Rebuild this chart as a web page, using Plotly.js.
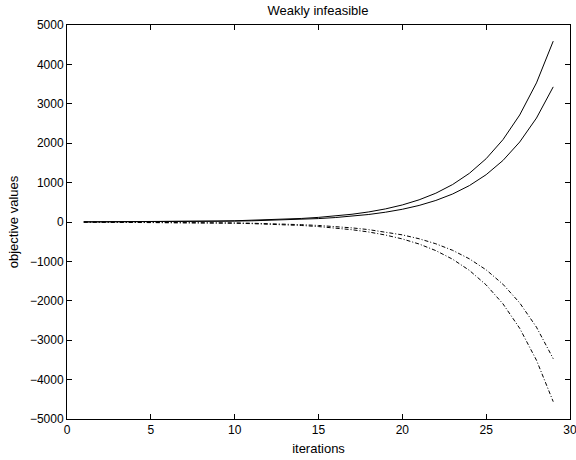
<!DOCTYPE html>
<html>
<head>
<meta charset="utf-8">
<script src="https://cdn.plot.ly/plotly-3.0.1.min.js"></script>
<style>html,body{margin:0;padding:0;background:#fff;}#chart{width:576px;height:460px;}</style>
</head>
<body>
<div id="chart"></div>
<script>
var iterations = [1,2,3,4,5,6,7,8,9,10,11,12,13,14,15,16,17,18,19,20,21,22,23,24,25,26,27,28,29];
var upperSolid = [3.0,3.8,5.0,6.5,8.5,11,14,19,24,31,41,53,69,90,117,152,197,256,333,433,563,731,951,1236,1607,2089,2716,3531,4590];
var lowerSolid = [2.2,2.9,3.7,4.9,6.3,8.2,11,14,18,23,30,40,52,67,87,113,147,191,249,323,420,547,711,924,1201,1561,2030,2638,3430];
var upperDashDot = [-2.2,-2.9,-3.8,-4.9,-6.4,-8.3,-11,-14,-18,-24,-31,-40,-52,-68,-88,-115,-149,-194,-252,-327,-425,-553,-719,-935,-1215,-1579,-2053,-2669,-3470];
var lowerDashDot = [-2.9,-3.8,-5.0,-6.5,-8.4,-11,-14,-18.6,-24,-31,-41,-53,-69,-89,-116,-151,-196,-254,-331,-430,-559,-727,-945,-1228,-1597,-2076,-2698,-3508,-4560];
var xTicks = [0,5,10,15,20,25,30];
var yTicks = [-5000,-4000,-3000,-2000,-1000,0,1000,2000,3000,4000,5000];

var dd = '4px,2px,1px,2px';
var traces = [
  {x: iterations, y: upperSolid, mode: 'lines', line: {color: '#000', width: 1}},
  {x: iterations, y: lowerSolid, mode: 'lines', line: {color: '#000', width: 1}},
  {x: iterations, y: upperDashDot, mode: 'lines', line: {color: '#000', width: 1, dash: dd}},
  {x: iterations, y: lowerDashDot, mode: 'lines', line: {color: '#000', width: 1, dash: dd}}
];
var fam = 'Liberation Sans, Arial, sans-serif';
var layout = {
  width: 576, height: 460,
  margin: {l: 67, r: 6, t: 25, b: 41},
  showlegend: false,
  paper_bgcolor: '#fff', plot_bgcolor: '#fff',
  font: {family: fam, size: 12, color: '#000'},
  title: {text: 'Weakly infeasible', font: {family: fam, size: 13, color: '#000'}, x: 0.552, xref: 'container', xanchor: 'center', y: 0.978, yref: 'container', yanchor: 'middle'},
  xaxis: {
    range: [0, 30], tickvals: xTicks, ticktext: xTicks.map(String),
    ticks: 'inside', ticklen: 5, tickwidth: 1, tickcolor: '#000',
    showline: true, linecolor: '#000', linewidth: 1, mirror: 'ticks',
    showgrid: false, zeroline: false, ticklabeloverflow: 'allow',
    tickfont: {family: fam, size: 12, color: '#000'},
    title: {text: 'iterations', font: {family: fam, size: 13, color: '#000'}, standoff: 7}
  },
  yaxis: {
    range: [-5000, 5000], tickvals: yTicks, ticktext: yTicks.map(function(v){return v < 0 ? '\u2212' + Math.abs(v) : String(v);}),
    ticks: 'inside', ticklen: 5, tickwidth: 1, tickcolor: '#000',
    showline: true, linecolor: '#000', linewidth: 1, mirror: 'ticks',
    showgrid: false, zeroline: false,
    tickfont: {family: fam, size: 12, color: '#000'},
    title: {text: 'objective values', font: {family: fam, size: 13, color: '#000'}, standoff: 8}
  }
};
Plotly.newPlot('chart', traces, layout, {staticPlot: true, displayModeBar: false});
</script>
</body>
</html>
